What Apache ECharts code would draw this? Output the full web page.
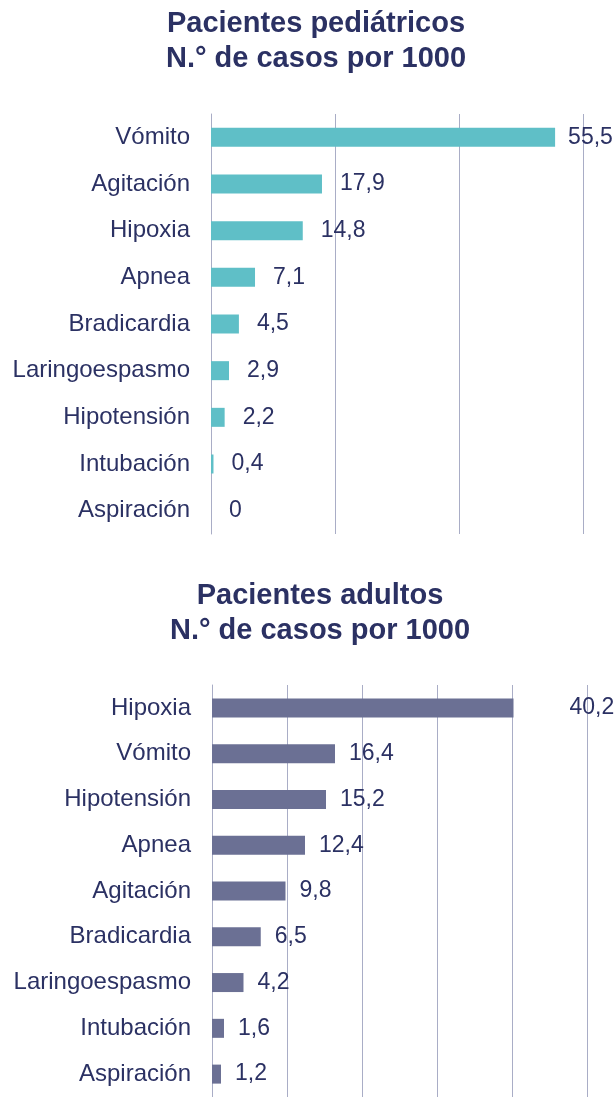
<!DOCTYPE html>
<html><head><meta charset="utf-8">
<script src="https://cdn.jsdelivr.net/npm/echarts@6/dist/echarts.min.js"></script>
<style>html,body{margin:0;padding:0;background:#fff}#c{width:616px;height:1097px}</style>
</head><body><div id="c"></div>
<script>
const pedCategories = ['Vómito','Agitación','Hipoxia','Apnea','Bradicardia','Laringoespasmo','Hipotensión','Intubación','Aspiración'];
const pedValues = [55.5, 17.9, 14.8, 7.1, 4.5, 2.9, 2.2, 0.4, 0];
const adCategories = ['Hipoxia','Vómito','Hipotensión','Apnea','Agitación','Bradicardia','Laringoespasmo','Intubación','Aspiración'];
const adValues = [40.2, 16.4, 15.2, 12.4, 9.8, 6.5, 4.2, 1.6, 1.2];
const pedTitle = 'Pacientes pediátricos\nN.° de casos por 1000';
const adTitle = 'Pacientes adultos\nN.° de casos por 1000';

const navy = '#2b3163';
const gridColor = '#a9adc6';
const font = '"Liberation Sans", Arial, sans-serif';
const fmt = p => String(p.value).replace('.', ',');

const chart = echarts.init(document.getElementById('c'), null, {renderer:'canvas'});
function yAx(idx, cats){
  return {type:'category', gridIndex: idx, data: cats, inverse: true,
    axisLine:{show:true, lineStyle:{color:gridColor, width:1}}, axisTick:{show:false},
    axisLabel:{color:navy, fontSize:24, fontFamily:font, margin:21}};
}
function xAx(idx, max, interval){
  return {type:'value', gridIndex: idx, min:0, max:max, interval:interval,
    axisLine:{show:false}, axisTick:{show:false}, axisLabel:{show:false},
    splitLine:{show:true, lineStyle:{color:gridColor, width:1}}};
}
function series(idx, vals, color, dist, firstDist){
  const data = vals.map((v, i) => i === 0 ? {value: v, label: {distance: firstDist}} : v);
  return {type:'bar', xAxisIndex: idx, yAxisIndex: idx, data: data, barWidth:19,
    itemStyle:{color:color}, animation:false,
    label:{show:true, position:'right', distance:dist, color:navy, fontSize:23, fontFamily:font, formatter: fmt}};
}
chart.setOption({
  animation:false,
  graphic:[
    {type:'text', x:316, y:6, style:{text:pedTitle, fill:navy, font:'bold 29px ' + font, align:'center', lineHeight:35}},
    {type:'text', x:320, y:578, style:{text:adTitle, fill:navy, font:'bold 29px ' + font, align:'center', lineHeight:35}}
  ],
  grid:[
    {left:211, right:33, top:114, height:420},
    {left:212, right:29, top:685, height:421}
  ],
  xAxis:[xAx(0, 60, 20), xAx(1, 50, 10)],
  yAxis:[yAx(0, pedCategories), yAx(1, adCategories)],
  series:[series(0, pedValues, '#5fbfc7', 18, 13), series(1, adValues, '#6b7094', 14, 56)]
});
</script></body></html>
